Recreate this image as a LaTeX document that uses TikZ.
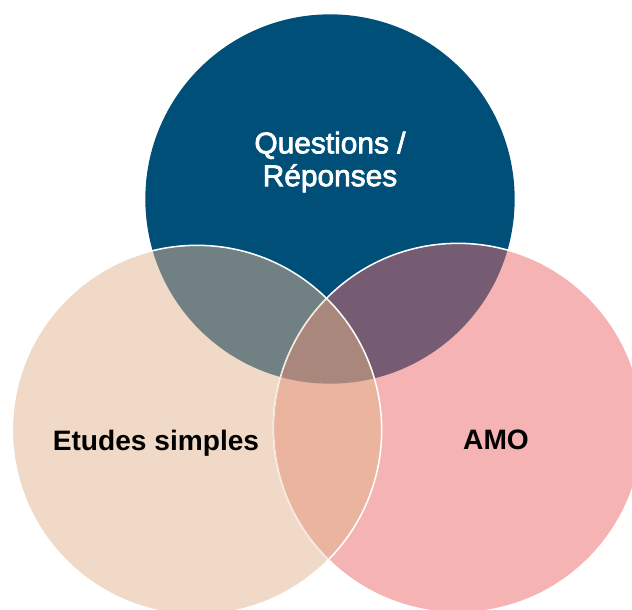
\documentclass[tikz,border=0pt]{standalone}
\usepackage{fontspec}
\setmainfont{Liberation Sans}
\newfontfamily\qrfont{Liberation Sans}[FakeBold=2.5]
\usetikzlibrary{positioning}
\definecolor{qrblue}{RGB}{0, 79, 121}
\definecolor{espeach}{RGB}{240, 217, 198}
\definecolor{amopink}{RGB}{245, 179, 180}
\definecolor{qresmix}{RGB}{113, 128, 131}
\definecolor{qramomix}{RGB}{118, 92, 114}
\definecolor{esamomix}{RGB}{235, 180, 159}
\definecolor{allmix}{RGB}{169, 135, 124}

\begin{document}
\begin{tikzpicture}[x=0.03cm, y=-0.03cm,
    setlabel/.style={font=\fontsize{24}{27}\selectfont, align=center},
    rim/.style={draw=white, line width=1.3pt},
    softrim/.style={draw=espeach!70!white, line width=0.8pt}
]
\useasboundingbox (0,0) rectangle (632,610);
\clip (0,0) rectangle (632,610);
\def\rad{5.54cm}

% circle centres
\coordinate (qr) at (330,199);
\coordinate (es) at (197,430);
\coordinate (amo) at (458,428);

% Base circles
\fill[qrblue] (qr) circle[radius=\rad];
\fill[amopink] (amo) circle[radius=\rad];
\fill[espeach] (es) circle[radius=\rad];

% Overlaps with the top circle
\begin{scope}
    \clip (qr) circle[radius=\rad];
    \fill[qresmix] (es) circle[radius=\rad];
    \fill[qramomix] (amo) circle[radius=\rad];
\end{scope}

% Overlap of the two lower circles, and the centre
\begin{scope}
    \clip (es) circle[radius=\rad];
    \fill[esamomix] (amo) circle[radius=\rad];
    \clip (qr) circle[radius=\rad];
    \fill[allmix] (amo) circle[radius=\rad];
\end{scope}

% Outlines
\draw[rim] (amo) circle[radius=\rad];
\begin{scope}
    \clip (es) circle[radius=\rad];
    \draw[softrim] (amo) circle[radius=\rad];
\end{scope}
\draw[rim] (es) circle[radius=\rad];

% Labels
\node[setlabel, text=white, font=\fontsize{25.5}{28}\selectfont\qrfont] (qrtext) at (330,162) {Questions /\\Réponses};
\node[setlabel, font=\fontsize{24}{27}\selectfont\bfseries] (estext) at (156,443) {Etudes simples};
\node[setlabel, font=\fontsize{24}{27}\selectfont\bfseries] (amotext) at (496,440) {AMO};

\end{tikzpicture}
\end{document}
